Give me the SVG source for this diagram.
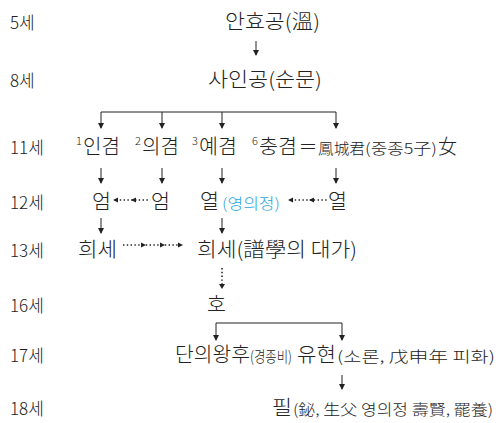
<svg xmlns="http://www.w3.org/2000/svg" width="500" height="423" viewBox="0 0 500 423">
<defs>
<marker id="ah" markerWidth="6" markerHeight="6" refX="5" refY="3" orient="auto" markerUnits="userSpaceOnUse"><path d="M0,0 L6,3 L0,6 Z" fill="#222"/></marker>
</defs>
<style>
text{font-family:"Noto Sans CJK KR","Noto Sans",sans-serif;fill:#222;font-weight:300}
.lbl{font-size:17px}
.n{font-size:20px}
.s{font-size:15px}
.sup{font-size:11px}
.blue{fill:#2ea3dc}
.ln{stroke:#222;stroke-width:1;fill:none}
.dot{stroke:#222;stroke-width:1.6;fill:none;stroke-dasharray:1.4 2.4}
.hd{fill:#222}
</style>
<rect width="500" height="423" fill="#fff"/>
<g id="labels">
<text class="lbl" x="10" y="29">5세</text>
<text class="lbl" x="10" y="87">8세</text>
<text class="lbl" x="10" y="154">11세</text>
<text class="lbl" x="10" y="209">12세</text>
<text class="lbl" x="10" y="257">13세</text>
<text class="lbl" x="10" y="312">16세</text>
<text class="lbl" x="10" y="362">17세</text>
<text class="lbl" x="10" y="415">18세</text>
</g>
<g id="n-ahg"><text class="n" x="225" y="29" textLength="95" lengthAdjust="spacingAndGlyphs">안효공(溫)</text></g>
<g id="n-sain"><text class="n" x="208" y="87" textLength="114" lengthAdjust="spacingAndGlyphs">사인공(순문)</text></g>
<g id="n-ingyeom"><text class="sup" x="76" y="145">1</text><text class="n" x="83" y="154" textLength="37" lengthAdjust="spacingAndGlyphs">인겸</text></g>
<g id="n-uigyeom"><text class="sup" x="135" y="145">2</text><text class="n" x="142" y="154" textLength="37" lengthAdjust="spacingAndGlyphs">의겸</text></g>
<g id="n-yegyeom"><text class="sup" x="192" y="145">3</text><text class="n" x="199" y="154" textLength="38" lengthAdjust="spacingAndGlyphs">예겸</text></g>
<g id="n-chunggyeom"><text class="sup" x="252" y="145">6</text><text class="n" x="259" y="154" textLength="38" lengthAdjust="spacingAndGlyphs">충겸</text><text class="n" x="300" y="154" textLength="16" lengthAdjust="spacingAndGlyphs">=</text><text class="s" x="318" y="154" textLength="47" lengthAdjust="spacingAndGlyphs">鳳城君</text><text class="s" x="365" y="154" textLength="72" lengthAdjust="spacingAndGlyphs">(중종5子)</text><text class="n" x="438" y="154" textLength="19" lengthAdjust="spacingAndGlyphs">女</text></g>
<g id="n-eom1"><text class="n" x="92" y="209" textLength="19" lengthAdjust="spacingAndGlyphs">엄</text></g>
<g id="n-eom2"><text class="n" x="151" y="209" textLength="19" lengthAdjust="spacingAndGlyphs">엄</text></g>
<g id="n-yeol1"><text class="n" x="200" y="209" textLength="19" lengthAdjust="spacingAndGlyphs">열</text><text class="s blue" x="222" y="209" textLength="58" lengthAdjust="spacingAndGlyphs">(영의정)</text></g>
<g id="n-yeol2"><text class="n" x="328" y="209" textLength="19" lengthAdjust="spacingAndGlyphs">열</text></g>
<g id="n-huise1"><text class="n" x="78" y="257" textLength="39" lengthAdjust="spacingAndGlyphs">희세</text></g>
<g id="n-huise2"><text class="n" x="197" y="257" textLength="160" lengthAdjust="spacingAndGlyphs">희세(譜學의 대가)</text></g>
<g id="n-ho"><text class="n" x="207" y="312" textLength="19" lengthAdjust="spacingAndGlyphs">호</text></g>
<g id="n-danui"><text class="n" x="175" y="362" textLength="75" lengthAdjust="spacingAndGlyphs">단의왕후</text><text class="s" x="250" y="362" textLength="42" lengthAdjust="spacingAndGlyphs">(경종비)</text></g>
<g id="n-yuhyeon"><text class="n" x="297" y="362" textLength="39" lengthAdjust="spacingAndGlyphs">유현</text><text class="s" x="337" y="362" textLength="158" lengthAdjust="spacingAndGlyphs">(소론, 戊申年 피화)</text></g>
<g id="n-pil"><text class="n" x="272" y="415" textLength="20" lengthAdjust="spacingAndGlyphs">필</text><text class="s" x="293" y="415" textLength="200" lengthAdjust="spacingAndGlyphs">(鉍, 生父 영의정 壽賢, 罷養)</text></g>
<g id="connectors">
<line class="ln" x1="256" y1="41" x2="256" y2="55" marker-end="url(#ah)"/>
<path class="ln" d="M101,112 H336"/>
<line class="ln" x1="101" y1="112" x2="101" y2="128" marker-end="url(#ah)"/>
<line class="ln" x1="162" y1="112" x2="162" y2="128" marker-end="url(#ah)"/>
<line class="ln" x1="222" y1="112" x2="222" y2="128" marker-end="url(#ah)"/>
<line class="ln" x1="336" y1="112" x2="336" y2="128" marker-end="url(#ah)"/>
<line class="ln" x1="101" y1="168" x2="101" y2="183" marker-end="url(#ah)"/>
<line class="ln" x1="162" y1="168" x2="162" y2="183" marker-end="url(#ah)"/>
<line class="ln" x1="222" y1="168" x2="222" y2="183" marker-end="url(#ah)"/>
<line class="ln" x1="336" y1="168" x2="336" y2="183" marker-end="url(#ah)"/>
<line class="ln" x1="101" y1="218" x2="101" y2="233" marker-end="url(#ah)"/>
<line class="ln" x1="222" y1="218" x2="222" y2="233" marker-end="url(#ah)"/>
<line class="dot" x1="116" y1="200" x2="150" y2="200"/>
<path class="hd" d="M113,200 l5,-2.5 v5 Z M131,200 l5,-2.5 v5 Z"/>
<line class="dot" x1="291" y1="200" x2="327" y2="200"/>
<path class="hd" d="M288,200 l5,-2.5 v5 Z M309,200 l5,-2.5 v5 Z"/>
<line class="dot" x1="123" y1="245" x2="179" y2="245"/>
<path class="hd" d="M146,245 l-5,-2.5 v5 Z M165,245 l-5,-2.5 v5 Z M183,245 l-5,-2.5 v5 Z"/>
<line class="dot" x1="222" y1="268" x2="222" y2="284"/>
<path class="hd" d="M222,289 l-3,-5 h6 Z"/>
<path class="ln" d="M216,323 H342"/>
<line class="ln" x1="216" y1="323" x2="216" y2="340" marker-end="url(#ah)"/>
<line class="ln" x1="342" y1="323" x2="342" y2="340" marker-end="url(#ah)"/>
<line class="ln" x1="342" y1="375" x2="342" y2="389" marker-end="url(#ah)"/>
</g>
</svg>
